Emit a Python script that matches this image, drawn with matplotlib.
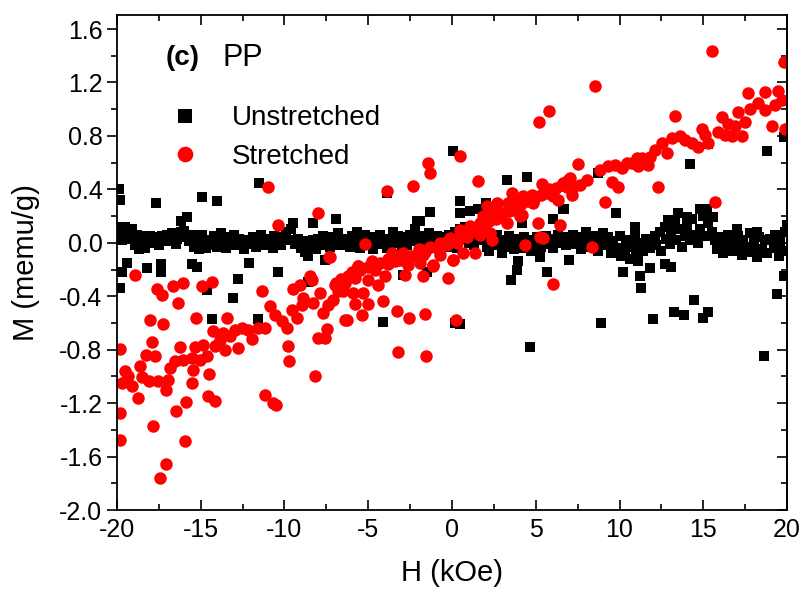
import matplotlib.pyplot as plt
from matplotlib.ticker import MultipleLocator

plt.rcParams['font.family'] = ['Liberation Sans', 'DejaVu Sans']
plt.rcParams['axes.unicode_minus'] = False

# Unstretched PP: main band around zero
h_un_band = [-20.0, -19.9, -19.8, -19.7, -19.6, -19.5, -19.4, -19.3, -19.2,
             -19.0, -18.9, -18.8, -18.7, -18.5, -18.4, -18.3, -18.1,
             -18.0, -17.9, -17.8, -17.6, -17.5, -17.3, -17.1,
             -17.0, -16.8, -16.7, -16.5, -16.4, -16.2, -16.1,
             -16.0, -15.9, -15.7, -15.5, -15.4, -15.2, -15.1,
             -15.0, -14.9, -14.7, -14.6, -14.4, -14.2, -14.1,
             -14.0, -13.8, -13.7, -13.5, -13.3, -13.2, -13.0,
             -12.9, -12.7, -12.5, -12.4, -12.2, -12.0,
             -11.9, -11.7, -11.5, -11.4, -11.2, -11.0,
             -10.9, -10.7, -10.6, -10.4, -10.2, -10.0,
             -9.9, -9.7, -9.6, -9.4, -9.2, -9.0,
             -8.9, -8.8, -8.6, -8.5, -8.3, -8.1,
             -8.0, -7.8, -7.7, -7.5, -7.3, -7.1,
             -7.0, -6.8, -6.7, -6.5, -6.3, -6.1,
             -6.0, -5.9, -5.7, -5.5, -5.4, -5.2, -5.1,
             -5.0, -4.8, -4.7, -4.5, -4.3, -4.2, -4.0,
             -3.9, -3.7, -3.5, -3.4, -3.2, -3.0,
             -2.9, -2.7, -2.5, -2.4, -2.2, -2.1, -2.0,
             -1.8, -1.7, -1.5, -1.4, -1.2, -1.0,
             -0.9, -0.7, -0.6, -0.4, -0.2, -0.1,
             0.0, 0.2, 0.3, 0.5, 0.6, 0.8, 0.9,
             1.0, 1.2, 1.3, 1.5, 1.7, 1.8, 2.0,
             2.1, 2.2, 2.4, 2.5, 2.7, 2.8, 3.0,
             3.1, 3.3, 3.4, 3.6, 3.7, 3.9,
             4.0, 4.2, 4.3, 4.5, 4.7, 4.8, 5.0,
             5.1, 5.3, 5.4, 5.6, 5.8, 5.9,
             6.0, 6.2, 6.3, 6.5, 6.6, 6.8, 7.0,
             7.2, 7.3, 7.5, 7.7, 7.8, 8.0,
             8.1, 8.3, 8.4, 8.6, 8.7, 8.9,
             9.0, 9.2, 9.3, 9.5, 9.6, 9.8, 10.0,
             10.1, 10.3, 10.4, 10.6, 10.7, 10.9,
             11.0, 11.1, 11.3, 11.4, 11.6, 11.8, 11.9,
             12.1, 12.2, 12.4, 12.5, 12.7, 12.8, 13.0,
             13.1, 13.3, 13.4, 13.6, 13.7, 13.9,
             14.0, 14.2, 14.3, 14.5, 14.7, 14.8,
             15.0, 15.1, 15.3, 15.5, 15.7, 15.8,
             16.0, 16.2, 16.3, 16.5, 16.7, 16.8,
             17.0, 17.1, 17.3, 17.4, 17.6, 17.8, 17.9,
             18.0, 18.2, 18.3, 18.5, 18.7, 18.8,
             19.0, 19.2, 19.3, 19.5, 19.6, 19.8, 19.9, 20.0]
m_un_band = [0.10, 0.05, 0.12, 0.02, 0.08, 0.06, 0.10, 0.03, 0.07,
             0.04, -0.02, 0.06, -0.05, 0.03, 0.05, -0.04, 0.02,
             0.05, 0.00, 0.04, 0.03, -0.02, 0.05, 0.01,
             0.06, 0.02, 0.07, -0.01, 0.03, 0.08, 0.04,
             0.09, 0.05, 0.01, 0.06, -0.03, 0.02, -0.05,
             0.00, 0.06, -0.04, 0.02, -0.02, 0.05, 0.01,
             -0.03, 0.07, 0.01, -0.04, 0.04, 0.00, 0.06,
             -0.02, 0.03, 0.00, -0.05, 0.02, -0.01,
             0.04, -0.03, 0.01, 0.06, -0.02, 0.03,
             0.00, -0.04, 0.05, 0.01, -0.02, 0.04,
             0.08, 0.02, 0.10, -0.01, 0.03, -0.04,
             0.01, -0.07, -0.10, -0.03, 0.02, -0.05,
             0.03, -0.02, 0.05, 0.01, -0.03, 0.04,
             0.02, 0.07, -0.02, 0.03, 0.01, -0.03,
             0.05, 0.00, 0.08, -0.04, 0.03, 0.06, -0.02,
             0.01, 0.04, -0.05, 0.02, 0.06, -0.01, 0.03,
             -0.04, 0.02, 0.08, 0.00, 0.05, -0.03,
             0.04, -0.02, 0.06, 0.01, 0.10, 0.16, 0.03,
             -0.03, 0.05, 0.00, 0.07, -0.04, 0.02,
             0.05, -0.02, 0.04, 0.00, 0.06, -0.03,
             0.02, 0.08, -0.04, 0.10, 0.03, 0.12, 0.06,
             0.00, 0.05, -0.02, 0.08, 0.02, 0.12, 0.04,
             -0.03, -0.06, 0.03, 0.00, 0.06, -0.02, -0.08,
             0.02, -0.03, 0.05, 0.00, -0.05, 0.03,
             0.01, -0.04, 0.04, 0.00, -0.06, 0.02, -0.02,
             0.04, -0.03, 0.01, 0.05, -0.01, 0.03,
             -0.04, 0.02, 0.06, 0.00, 0.04, -0.02, 0.03,
             0.06, -0.01, 0.04, -0.05, 0.02, 0.08,
             0.01, -0.03, 0.05, 0.00, -0.06, 0.03,
             0.07, -0.02, 0.04, -0.08, 0.01, -0.04, 0.05,
             -0.10, -0.05, 0.02, -0.12, -0.03, 0.04,
             -0.08, -0.14, 0.00, -0.06, 0.03, -0.04, 0.01,
             0.05, -0.02, 0.08, -0.06, 0.12, 0.03, -0.01,
             0.07, 0.15, 0.02, 0.10, -0.03, 0.05,
             0.12, 0.02, 0.18, 0.06, 0.00, 0.10,
             0.20, 0.05, 0.15, 0.08, 0.02, -0.05,
             0.04, -0.08, -0.02, 0.06, -0.06, 0.01,
             -0.04, 0.05, -0.09, 0.02, -0.03, 0.07, -0.07,
             0.00, -0.11, 0.04, -0.05, 0.02, -0.08,
             0.03, -0.04, 0.06, -0.10, 0.01, -0.06, 0.08, 0.13]

# Unstretched PP: scattered points away from the band
h_un_out = [-19.9, -19.8, -17.7, -14.9, -14.0, -15.8, -16.2, -11.5, -9.5, -8.3, -6.9,
            -19.4, -19.7, -19.8, -18.2, -17.4, -17.4, -15.5, -15.2, -14.6, -12.8,
            -13.1, -14.3, -11.6, -10.4, -12.1, -8.6, -7.6,
            0.06, 0.48, -1.3, -1.9, 3.3, 4.5, 1.55, 6.6, -3.9,
            -4.1, 0.48, 0.2, 4.65, 3.5, 3.9, 3.95, 5.25, 5.7, -2.9, -1.5, 3.0,
            8.9, 10.2, 11.2, 11.3, 12.0, 13.25, 13.85, 14.45, 15.0, 15.3, 18.6,
            19.4, 19.8, 11.8, 12.7, 13.1, 7.0,
            14.2, 18.8, 9.8, 8.7, 15.3, 19.8,
            14.8, 15.2, 13.5, 12.9, 14.0, 15.6, 6.7, 10.9, 17.0, 18.2,
            0.5, 1.1, 2.0, 4.2, 6.0, -19.5, -19.1]
m_un_out = [0.40, 0.32, 0.30, 0.34, 0.31, 0.19, 0.16, 0.45, 0.15, 0.15, 0.18,
            -0.15, -0.22, -0.34, -0.19, -0.16, -0.22, -0.16, -0.18, -0.35, -0.27,
            -0.41, -0.57, -0.57, -0.22, -0.15, -0.29, -0.13,
            0.69, 0.31, 0.23, 0.16, 0.47, 0.49, 0.25, 0.25, 0.37,
            -0.59, -0.61, -0.60, -0.78, -0.28, -0.20, -0.14, -0.11, -0.22, -0.24, -0.22, -0.08,
            -0.60, -0.22, -0.25, -0.34, -0.57, -0.52, -0.54, -0.43, -0.56, -0.52, -0.85,
            -0.38, -0.25, -0.19, -0.16, -0.18, -0.13,
            0.59, 0.69, 0.22, 0.52, 0.74, 0.79,
            0.25, 0.25, 0.22, 0.17, 0.19, 0.19, 0.25, 0.12, 0.10, 0.08,
            0.22, 0.24, 0.30, 0.15, 0.18, 0.12, 0.10]

# Stretched PP
h_st = [-18.93, -17.63, -17.29, -16.68, -16.04, -16.34, -14.95, -14.35, -18.03, -17.23,
        -15.30, -13.45, -11.36, -19.82, -17.89, -18.29, -17.73, -18.63, -19.52, -19.32,
        -18.49, -19.72, -19.12, -18.73, -18.09, -17.53, -16.93, -16.83, -17.07, -16.24,
        -16.54, -16.04, -15.54, -15.44, -15.54, -15.88, -16.48, -15.34, -14.85, -14.65,
        -15.04, -14.49, -14.55, -14.15, -19.82, -17.83, -19.82, -15.94, -17.09, -17.43,
        -14.15, -13.85, -13.55, -14.25, -13.65, -13.25, -12.95, -12.76, -12.56, -12.16,
        -11.96, -11.56, -11.16, -11.16, -10.67, -10.53, -10.87, -10.56, -10.17, -9.87,
        -9.77, -9.71, -9.57, -9.47, -9.27, -9.07, -8.97, -8.88, -8.48, -8.34,
        -8.28, -7.88, -8.18, -7.98, -7.58, -7.48, -7.68, -7.38, -7.08, -6.98,
        -6.78, -6.39, -7.28,
        -10.97, -10.37, -7.98, -7.32,
        -3.90, -2.35, -1.41, -1.31, 0.48, 1.57, 5.21, 5.81, 5.35, 3.56,
        -5.19, -5.59, -4.80, -3.60, -3.11, -1.81, -1.12, 0.08, 0.68, 1.37,
        5.15, 6.45, 5.25, 4.36, 5.45, 7.04, 6.55,
        -0.72, -0.12, 0.48, 1.07, 1.67, 2.07, 2.47, 2.87, 3.36, 3.86,
        4.26, 4.76, 3.66, 4.16, 5.65, 6.05, 6.35, 6.85, 0.68, 1.27,
        1.87, 2.67, 3.26, 4.06, 4.86, 2.27, 2.37, 1.67, 0.88, 0.28,
        -3.50, -3.10, -2.31, -1.71, -0.72, 0.08, -5.59, -4.80, -3.80, -2.61,
        -1.91, -1.11, -6.19, -5.79, -4.99, -4.40, -4.00, -2.81, -1.71, -0.22,
        -6.69, -6.49, -5.89, -5.29, -5.79, -4.99, -4.10, -6.29, -5.39, -3.30,
        -2.55, -1.59, 0.24, -3.20, -1.55, 6.05,
        8.54, 15.50, 19.84, 7.54, 13.31, 17.69, 18.69, 19.48, 19.68, 18.29,
        17.79, 17.10, 16.10, 17.49, 19.08, 19.88, 19.28, 18.69, 16.50, 16.90,
        15.90, 16.30, 16.70, 17.29, 14.91, 15.10, 15.30, 14.71, 14.31, 13.91,
        13.61, 13.11, 12.52, 12.82, 12.12, 11.82, 11.72, 11.32, 11.12, 10.43,
        10.13, 9.73, 9.33, 8.84, 9.53, 9.93, 8.04, 7.64, 7.24, 6.95,
        7.14, 9.13, 12.32, 15.70, 8.34, 10.73, 11.02, 11.52,
        -6.9, -6.6, -6.4, -6.0, -5.5, -5.0, -4.6, -4.3, -3.8, -3.4,
        -2.9, -2.5, -2.0, -1.6, -1.3, -0.9, -0.5, -0.3, 0.2, 0.5,
        0.9, 1.2, 1.5, 1.9, 2.2, 2.6, 3.0, 3.4, 3.8, 4.1,
        4.5, 4.9, 5.3, 5.8, 6.2, 6.6, 7.0]
m_st = [-0.244, -0.344, -0.389, -0.326, -0.302, -0.451, -0.326, -0.297, -0.576, -0.606,
        -0.563, -0.563, -0.364, -0.795, -0.745, -0.842, -0.850, -0.920, -0.962, -0.994,
        -1.007, -1.049, -1.074, -1.161, -1.032, -1.032, -1.024, -0.937, -1.104, -0.780,
        -0.887, -0.875, -0.862, -0.955, -1.049, -1.194, -1.261, -0.782, -0.762, -0.845,
        -0.875, -0.982, -1.149, -1.186, -1.274, -1.373, -1.473, -1.480, -1.652, -1.760,
        -0.775, -0.725, -0.800, -0.658, -0.675, -0.700, -0.650, -0.787, -0.638, -0.650,
        -0.720, -0.638, -0.638, -1.136, -1.199, -1.211, -0.476, -0.538, -0.588, -0.638,
        -0.775, -0.887, -0.501, -0.346, -0.563, -0.314, -0.464, -0.414, -0.252, -0.277,
        -0.451, -0.376, -0.994, -0.713, -0.713, -0.646, -0.526, -0.464, -0.426, -0.314,
        -0.364, -0.576, -0.107,
        0.421, 0.135, 0.222, -0.110,
        0.384, 0.426, 0.596, 0.526, 0.650, 0.464, 0.907, 0.989, 0.441, 0.371,
        -0.007, -0.177, -0.140, -0.077, -0.127, -0.052, -0.164, -0.127, -0.077, -0.077,
        0.147, 0.135, 0.042, -0.015, 0.035, 0.483, 0.434,
        0.000, 0.035, 0.097, 0.122, 0.147, 0.272, 0.247, 0.222, 0.297, 0.322,
        0.347, 0.359, 0.247, 0.209, 0.371, 0.347, 0.322, 0.421, 0.072, 0.097,
        0.197, 0.297, 0.147, 0.197, 0.297, 0.072, 0.022, 0.060, 0.047, -0.003,
        -0.090, -0.115, -0.102, -0.090, -0.090, -0.127, -0.177, -0.152, -0.157, -0.164,
        -0.152, -0.172, -0.247, -0.264, -0.282, -0.314, -0.252, -0.239, -0.252, -0.264,
        -0.326, -0.364, -0.376, -0.376, -0.459, -0.456, -0.439, -0.576, -0.538, -0.513,
        -0.563, -0.533, -0.576, -0.820, -0.850, -0.307,
        1.174, 1.435, 1.351, 0.586, 0.952, 1.124, 1.126, 1.139, 1.069, 1.049,
        0.999, 0.982, 0.945, 0.907, 0.877, 0.852, 1.032, 0.994, 0.890, 0.875,
        0.832, 0.807, 0.800, 0.800, 0.850, 0.807, 0.745, 0.720, 0.745, 0.770,
        0.800, 0.782, 0.750, 0.670, 0.695, 0.645, 0.583, 0.633, 0.571, 0.596,
        0.558, 0.583, 0.571, 0.546, 0.458, 0.421, 0.471, 0.434, 0.421, 0.471,
        0.359, 0.302, 0.421, 0.302, -0.028, 0.596, 0.633, 0.596,
        -0.30, -0.27, -0.30, -0.22, -0.20, -0.18, -0.20, -0.15, -0.12, -0.14,
        -0.08, -0.10, -0.05, -0.07, -0.03, -0.04, 0.00, -0.02, 0.02, 0.04,
        0.06, 0.09, 0.11, 0.13, 0.16, 0.18, 0.22, 0.24, 0.26, 0.29,
        0.31, 0.33, 0.36, 0.40, 0.41, 0.45, 0.44]

fig = plt.figure(figsize=(8.04, 5.92), dpi=100)
ax = fig.add_axes([0.1455, 0.1385, 0.8334, 0.8362])

ax.plot(h_un_band + h_un_out, m_un_band + m_un_out, 's', color='black',
        markersize=7.8, markeredgewidth=0, label='Unstretched')
ax.plot(h_st, m_st, 'o', color='#ff0000', markersize=9.0,
        markeredgewidth=0, label='Stretched')

ax.set_xlim(-20, 20)
ax.set_ylim(-2.0, 1.705)
ax.xaxis.set_major_locator(MultipleLocator(5))
ax.xaxis.set_minor_locator(MultipleLocator(2.5))
ax.yaxis.set_major_locator(MultipleLocator(0.4))
ax.yaxis.set_minor_locator(MultipleLocator(0.2))
ax.yaxis.set_major_formatter(plt.FuncFormatter(lambda v, p: f'{v:.1f}'))

for s in ax.spines.values():
    s.set_linewidth(1.3)
ax.tick_params(axis='x', which='both', direction='in', top=True, labelsize=18,
               width=1.2, pad=6)
ax.tick_params(axis='y', which='both', direction='out', labelsize=18, width=1.2)
ax.tick_params(which='major', length=7)
ax.tick_params(which='minor', length=4)
# right side ticks point inward
sec = ax.secondary_yaxis('right')
sec.yaxis.set_major_locator(MultipleLocator(0.4))
sec.yaxis.set_minor_locator(MultipleLocator(0.2))
sec.tick_params(which='both', direction='in', labelright=False, width=1.2)
sec.tick_params(which='major', length=7)
sec.tick_params(which='minor', length=4)
sec.spines['right'].set_linewidth(1.3)

ax.set_xlabel('H (kOe)', fontsize=21, labelpad=12)
ax.set_ylabel('M (memu/g)', fontsize=21, labelpad=14)

ax.text(0.072, 0.914, '(c)', transform=ax.transAxes, fontsize=20,
        fontweight='bold', va='center')
ax.text(0.157, 0.914, 'PP', transform=ax.transAxes, fontsize=22, va='center')

ax.legend(loc='upper left', bbox_to_anchor=(0.06, 0.84), frameon=False,
          fontsize=20, handletextpad=1.1, labelspacing=0.45, handlelength=1.2,
          markerscale=1.25, borderaxespad=0)

fig.savefig('out.png', dpi=100)
